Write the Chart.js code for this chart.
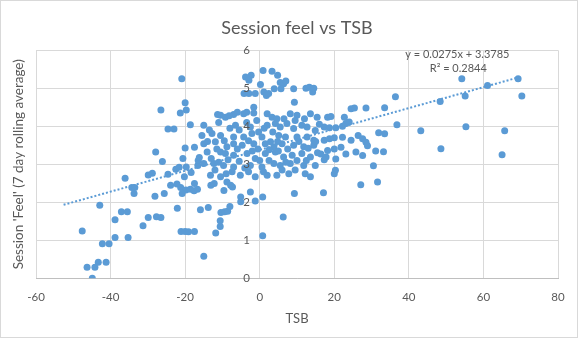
<!DOCTYPE html>
<html>
<head>
<meta charset="utf-8">
<script src="https://cdn.jsdelivr.net/npm/chart.js@4.4.1/dist/chart.umd.min.js"></script>
<style>
  html, body { margin: 0; padding: 0; background: #fff; }
  #wrap { position: relative; width: 578px; height: 338px; }
  #frame { position: absolute; left: 0; top: 0; width: 576px; height: 336px; border: 1px solid #d9d9d9; pointer-events: none; }
</style>
</head>
<body>
<div id="wrap">
  <canvas id="feelChart" width="578" height="338"></canvas>
  <div id="frame"></div>
</div>
<script>
// --- Data ---
const tsb = [
  -27.9, -26.1, -36.1, -29.9, -28.8, -24.6, -22.5, -21.6, -34.3, -33.5,
  -33.7, -28.1, -25.6, -23.9, -22.2, -21.2, -42.9, -37.1, -35.5, -38.8,
  -29.9, -27.7, -26.5, -31.3, -22.1, -47.6, -38.8, -35.3, -42.2, -40.4,
  -46.3, -44.2, -43.3, -41.2, -44.9, -24.6, -23.0, -26.5, -21.3,
  -20.9, -20.0, -19.7, -18.6, -17.5, -20.0, -20.6, -19.7, -18.4, -16.6,
  -16.5, -20.2, -16.2, -17.5, -19.8, -18.6, -17.6, -16.7, -20.8, -21.1,
  -20.0, -19.1, -17.5, -15.9, -13.8,
  -13.1, -12.2, -9.6, -7.3, -7.8, -8.8, -5.1, -5.1, -2.5, -1.2,
  0.8, -10.4, -9.4, -8.6, -8.0, -10.6, -10.6, -11.8, 0.8, -15.0,
  9.3, 17.1, 6.3, 27.1, 31.6, 30.5, 20.0, 20.3, 17.3,
  54.2, 69.3, 61.1, 55.1, 70.3, 48.4, 36.4, 33.5, 36.8, 31.9,
  33.5, 43.2, 55.3, 65.7, 48.6, 65.0, 31.1, 33.2,
  3.3, 4.8, 5.5, 6.4, 7.0, 3.9, 5.7, 9.1, 12.4, 13.3,
  14.2, 14.5, 9.3, 24.5, 25.4, 28.5,
  18.2, 19.1, 22.7, 17.3, 18.7, 20.4, 22.2, 23.1, 24.0, 17.3,
  18.7, 20.0, 22.2, 24.5, 26.4, 27.6, 28.5, 28.9, 16.4, 18.2,
  20.0, 21.8, 23.1, 25.8, 27.6, 17.8, 20.4,
  -3.8, -2.3, -2.9, 0.9, -4.2, -2.9, -1.2, 0.2, 1.1, 1.8,
  2.4, -1.6,
  -10.5, -9.2, -7.0, -4.3, -1.6, 2.0, 3.3, 4.6, 8.2, 10.0, 13.6, 15.4,
  -15.0, -6.5, -2.5, -0.3, 2.0, 4.2, 5.5, 7.3, 9.1, 11.3, 12.7, 14.9,
  -15.5, -12.8, -10.5, -7.0, -4.3, -2.1, 0.6, 2.9, 5.1, 6.9, 10.0, 12.7, 14.5,
  -15.0, -11.9, -8.8, -7.0, -4.7, -1.6, 1.5, 3.8, 6.0, 9.1, 11.8, 14.5,
  -14.1, -10.5, -9.2, -7.0, -3.4, -1.2, 1.5, 4.2, 6.4, 8.7, 11.3, 13.6,
  -15.0, -12.3, -9.7, -7.0, -2.5, 0.6, 3.8, 5.5, 8.2, 11.8, 14.9,
  -13.2, -10.5, -7.4, -5.2, -1.2, 2.0, 4.6, 7.8, 12.2, 13.6,
  -13.5, -11.0, -8.0, -5.5, -3.5, -0.8, 1.2, 3.5, 6.5, 9.5, 12.0,
  -14.0, -11.5, -9.5, -6.0, -3.0, -0.5, 2.5, 4.8, 7.5, 10.5, 13.0,
  -13.0, -11.0, -8.5, -5.5, -4.0, -2.0, 0.0, 2.5, 5.0, 7.0, 10.0, 12.5, 15.5,
  -12.0, -9.0, -3.0, 1.0, 6.0, 9.5, 15.0, 16.0, -11.3, -8.2, -6.0, -3.5
];
const feel = [
  3.32, 3.07, 2.63, 2.72, 2.76, 2.74, 2.87, 2.92, 2.39, 2.39,
  2.23, 2.16, 2.23, 2.45, 2.48, 2.39, 1.92, 1.75, 1.75, 1.54,
  1.60, 1.62, 1.60, 1.38, 1.84, 1.24, 1.07, 1.07, 0.91, 0.91,
  0.29, 0.29, 0.42, 0.42, 0.00, 3.93, 3.93, 4.43, 4.35,
  5.25, 4.62, 4.43, 4.04, 3.45, 3.43, 3.15, 2.93, 2.78, 2.97,
  3.10, 2.67, 3.18, 2.49, 2.32, 2.34, 2.30, 2.34, 2.23, 1.23,
  1.23, 1.22, 1.23, 1.80, 1.86,
  2.45, 2.49, 2.31, 2.40, 2.45, 2.53, 2.14, 2.01, 2.27, 2.03,
  2.14, 1.73, 1.75, 1.76, 1.89, 1.51, 1.36, 1.19, 1.12, 0.58,
  2.23, 2.25, 1.61, 2.46, 2.53, 2.96, 2.75, 2.84, 3.12,
  5.25, 5.25, 5.07, 4.80, 4.80, 4.65, 4.78, 4.49, 4.04, 3.83,
  3.80, 3.88, 3.99, 3.88, 3.41, 3.25, 3.35, 3.33,
  5.45, 5.34, 5.15, 5.12, 5.19, 4.99, 4.99, 4.99, 5.00, 5.03,
  4.90, 5.00, 4.63, 4.46, 4.48, 4.48,
  4.24, 4.26, 4.24, 3.98, 3.96, 3.96, 4.00, 4.07, 4.11, 3.63,
  3.67, 3.70, 3.71, 3.63, 3.76, 3.67, 3.58, 3.49, 3.27, 3.36,
  3.40, 3.45, 3.27, 3.32, 3.23, 3.19, 3.14,
  5.30, 5.34, 5.21, 5.47, 4.86, 4.86, 4.86, 5.10, 4.90, 4.81,
  4.86, 4.50,
  4.29, 4.24, 4.31, 4.33, 4.35, 4.33, 4.24, 4.20, 4.33, 4.29, 4.33, 4.24,
  4.03, 4.03, 3.98, 3.85, 4.03, 4.07, 3.98, 4.07, 3.94, 4.03, 3.98, 3.89,
  3.76, 3.81, 3.76, 3.72, 3.72, 3.81, 3.72, 3.59, 3.76, 3.72, 3.72, 3.72, 3.63,
  3.54, 3.59, 3.46, 3.54, 3.50, 3.54, 3.54, 3.46, 3.54, 3.50, 3.46, 3.50,
  3.32, 3.32, 3.28, 3.24, 3.28, 3.15, 3.28, 3.32, 3.19, 3.24, 3.28, 3.19,
  3.02, 3.02, 2.97, 2.93, 2.97, 2.93, 3.02, 2.97, 3.02, 2.97, 2.97,
  2.71, 2.67, 2.80, 2.71, 2.67, 2.71, 2.71, 2.75, 2.75, 2.67,
  3.90, 4.10, 3.95, 3.90, 4.10, 4.15, 3.95, 3.85, 4.20, 4.15, 4.20,
  3.60, 3.40, 3.62, 3.40, 3.62, 3.40, 3.38, 3.60, 3.40, 3.60, 3.42,
  3.15, 3.05, 3.12, 3.08, 2.90, 3.35, 3.10, 3.10, 3.35, 3.05, 3.10, 3.10, 3.30,
  2.85, 2.75, 2.80, 2.80, 2.85, 2.85, 3.60, 4.05, 4.31, 4.28, 4.37, 4.37
];

// linear trendline as printed on the chart
const trendSlope = 0.0275;
const trendIntercept = 3.3785;
const rSquared = 0.2844;
const trendX = [-52.6, 69.5];
const labelAt = [53, 5.88]; // where the equation text sits (data units)

const xTicks = { min: -60, max: 80, step: 20 };
const yTicks = { min: 0, max: 6, step: 1 };

const chartTitle = 'Session feel vs TSB';
const xTitle = 'TSB';
const yTitle = "Session 'Feel' (7 day rolling average)";

// --- Styles ---
const blue = '#5b9bd5';
const gridGrey = '#d9d9d9';
const textGrey = '#595959';
const fontFamily = 'Lato, "Liberation Sans", sans-serif';

const points = tsb.map((x, i) => ({ x: x, y: feel[i] }));
const trendPoints = trendX.map(x => ({ x: x, y: trendSlope * x + trendIntercept }));

// equation + R² text near the end of the trendline
const trendLabel = {
    id: 'trendLabel',
    afterDatasetsDraw(chart) {
        const { ctx, scales } = chart;
        const px = scales.x.getPixelForValue(labelAt[0]);
        const py = scales.y.getPixelForValue(labelAt[1]);
        ctx.save();
        ctx.fillStyle = textGrey;
        ctx.font = '11px ' + fontFamily;
        ctx.textAlign = 'center';
        ctx.textBaseline = 'middle';
        ctx.fillText(`y = ${trendSlope}x + ${trendIntercept}`, px, py);
        ctx.fillText(`R² = ${rSquared}`, px + 1, py + 14);
        ctx.restore();
    }
};

// axis titles drawn by hand (the y axis sits at x = 0, so its own title would land mid-chart)
const axisTitles = {
    id: 'axisTitles',
    afterDraw(chart) {
        const { ctx, chartArea } = chart;
        const midX = (chartArea.left + chartArea.right) / 2;
        const midY = (chartArea.top + chartArea.bottom) / 2;
        ctx.save();
        ctx.fillStyle = textGrey;
        ctx.textAlign = 'center';
        ctx.textBaseline = 'middle';
        ctx.font = '13px ' + fontFamily;
        ctx.fillText(xTitle, midX, chartArea.bottom + 41);
        ctx.font = '13.5px ' + fontFamily;
        ctx.translate(chartArea.left - 17, midY);
        ctx.rotate(-Math.PI / 2);
        ctx.fillText(yTitle, 0, 0);
        ctx.restore();
    }
};

const ctx = document.getElementById('feelChart').getContext('2d');

new Chart(ctx, {
    type: 'scatter',
    data: {
        datasets: [
            {
                type: 'line',
                data: trendPoints,
                xAxisID: 'x',
                yAxisID: 'y',
                borderColor: blue,
                borderWidth: 2,
                borderDash: [2, 2],
                pointRadius: 0,
                fill: false
            },
            {
                data: points,
                xAxisID: 'x',
                yAxisID: 'y',
                backgroundColor: blue,
                borderColor: blue,
                borderWidth: 0,
                pointRadius: 3.5
            }
        ]
    },
    options: {
        responsive: false,
        animation: false,
        events: [],
        layout: { padding: { left: 36, right: 20, top: 0, bottom: 21 } },
        plugins: {
            legend: { display: false },
            tooltip: { enabled: false },
            title: {
                display: true,
                text: chartTitle,
                color: textGrey,
                font: { family: fontFamily, size: 18, weight: 'normal' },
                padding: { top: 17, bottom: 11.7 }
            }
        },
        scales: {
            x: {
                type: 'linear',
                min: xTicks.min,
                max: xTicks.max,
                ticks: {
                    stepSize: xTicks.step,
                    color: textGrey,
                    font: { family: fontFamily, size: 11.5 },
                    padding: 12.5
                },
                grid: { color: gridGrey, drawTicks: false },
                border: { color: '#bfbfbf' }
            },
            y: {
                type: 'linear',
                // labels are right-aligned on this line, so sit it a bit left of x = 0
                position: { x: -2.6 },
                min: yTicks.min,
                max: yTicks.max,
                ticks: {
                    stepSize: yTicks.step,
                    color: textGrey,
                    font: { family: fontFamily, size: 11.5 },
                    z: 1
                },
                grid: { color: gridGrey, drawTicks: false },
                border: { display: false }
            }
        }
    },
    plugins: [trendLabel, axisTitles]
});
</script>
</body>
</html>
